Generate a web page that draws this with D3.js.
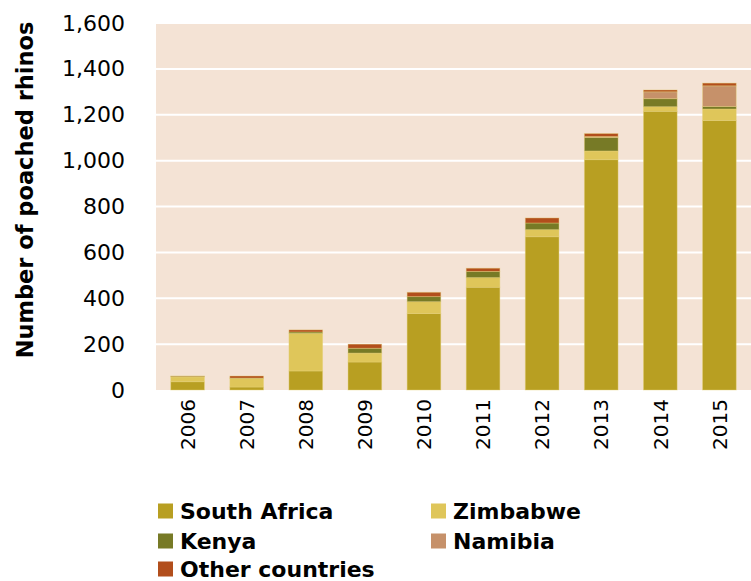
<!DOCTYPE html>
<html lang="en">
<head>
    <meta charset="UTF-8">
    <title>Poached rhinos by country</title>
    <script src="https://d3js.org/d3.v7.min.js"></script>
    <style>
        body { margin: 0; background: #fff; }
        text { font-family: "DejaVu Sans", sans-serif; fill: #000; }
        .axis path, .axis line { display: none; }
    </style>
</head>
<body>
<svg width="751" height="581"></svg>
<script>
    // data
    const years = ["2006", "2007", "2008", "2009", "2010", "2011", "2012", "2013", "2014", "2015"];
    const southAfrica = [36, 13, 83, 122, 333, 448, 668, 1004, 1215, 1175];
    const zimbabwe = [21, 38, 164, 39, 52, 42, 31, 38, 20, 50];
    const kenya = [3, 1, 6, 21, 22, 27, 29, 59, 35, 11];
    const namibia = [0, 0, 0, 0, 0, 0, 0, 4, 30, 90];
    const other = [1, 9, 9, 18, 19, 14, 22, 13, 8, 12];
    const yTicks = [0, 200, 400, 600, 800, 1000, 1200, 1400, 1600];

    const seriesNames = ["South Africa", "Zimbabwe", "Kenya", "Namibia", "Other countries"];
    const colors = ["#b89f22", "#dfc65a", "#777a26", "#c6916a", "#b24e1c"];
    const seriesValues = [southAfrica, zimbabwe, kenya, namibia, other];

    const table = years.map((y, i) => {
        const row = { year: y };
        seriesNames.forEach((s, k) => row[s] = seriesValues[k][i]);
        return row;
    });

    const svg = d3.select("svg");
    const margin = { top: 23, right: 0, bottom: 191, left: 156 };
    const width = +svg.attr("width") - margin.left - margin.right;
    const height = +svg.attr("height") - margin.top - margin.bottom;

    const x = d3.scaleBand()
        .domain(years)
        .range([0, width])
        .paddingInner(0.43)
        .paddingOuter(0.25);

    const y = d3.scaleLinear()
        .domain([0, 1600])
        .range([height, 0]);

    const g = svg.append("g")
        .attr("transform", `translate(${margin.left},${margin.top})`);

    // plot background
    g.append("rect")
        .attr("width", width)
        .attr("height", height)
        .attr("fill", "#f4e3d5");

    // gridlines
    g.selectAll(".grid")
        .data(yTicks.filter(d => d > 0))
        .enter().append("line")
        .attr("x1", 0)
        .attr("x2", width)
        .attr("y1", d => y(d))
        .attr("y2", d => y(d))
        .attr("stroke", "#fff")
        .attr("stroke-width", 2);

    const stacked = d3.stack().keys(seriesNames)(table);

    g.selectAll(".layer")
        .data(stacked)
        .enter().append("g")
        .attr("fill", (d, i) => colors[i])
        .selectAll("rect")
        .data(d => d)
        .enter().append("rect")
        .attr("x", d => x(d.data.year))
        .attr("y", d => y(d[1]))
        .attr("width", x.bandwidth())
        .attr("height", d => y(d[0]) - y(d[1]))
        .attr("stroke", "#e6d27a")
        .attr("stroke-opacity", 0.5)
        .attr("stroke-width", 0.8);

    // y axis
    g.append("g")
        .attr("class", "axis")
        .attr("transform", "translate(-28,0)")
        .call(d3.axisLeft(y).tickValues(yTicks).tickFormat(d3.format(",")).tickSize(0))
        .selectAll("text")
        .style("font-size", "22px");

    // x axis
    g.append("g")
        .attr("class", "axis")
        .attr("transform", `translate(0,${height})`)
        .call(d3.axisBottom(x).tickSize(0))
        .selectAll("text")
        .style("font-size", "20px")
        .attr("text-anchor", "end")
        .attr("transform", "rotate(-90)")
        .attr("x", -9)
        .attr("y", 0)
        .attr("dy", "0.36em");

    // y axis title
    svg.append("text")
        .attr("transform", "translate(33,190) rotate(-90)")
        .attr("text-anchor", "middle")
        .style("font-size", "22.5px")
        .style("font-weight", "bold")
        .text("Number of poached rhinos");

    // legend
    const legendPos = [[158, 511], [431, 511], [158, 541], [431, 541], [158, 569]];
    const legend = svg.selectAll(".legend")
        .data(seriesNames)
        .enter().append("g")
        .attr("transform", (d, i) => `translate(${legendPos[i][0]},${legendPos[i][1]})`);

    legend.append("rect")
        .attr("y", -7.5)
        .attr("width", 15)
        .attr("height", 15)
        .attr("fill", (d, i) => colors[i]);

    legend.append("text")
        .attr("x", 22)
        .attr("dy", "0.36em")
        .style("font-size", "22px")
        .style("font-weight", "bold")
        .text(d => d);
</script>
</body>
</html>
